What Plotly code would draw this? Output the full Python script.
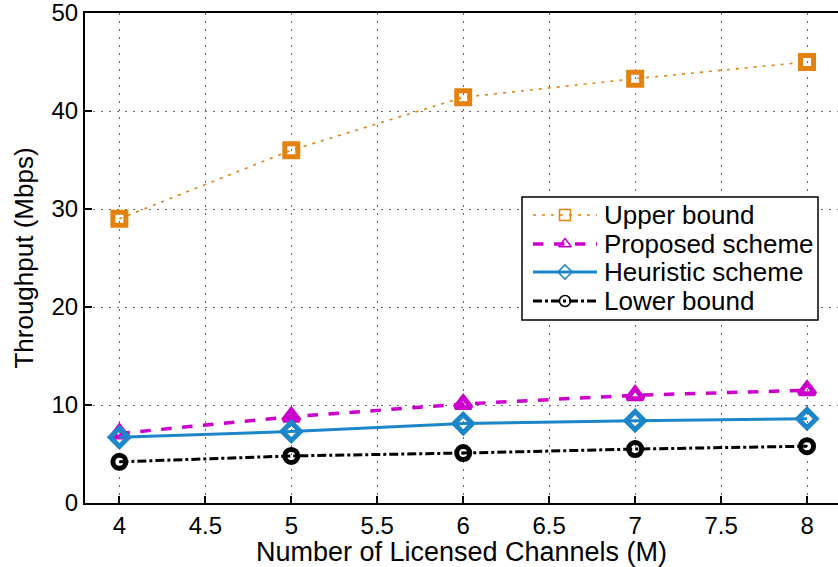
import plotly.graph_objects as go

# Throughput vs. number of licensed channels
channels = [4, 5, 6, 7, 8]
upper_bound = [29.0, 36.0, 41.4, 43.3, 45.0]
proposed = [7.1, 8.8, 10.1, 11.0, 11.5]
heuristic = [6.7, 7.3, 8.1, 8.4, 8.6]
lower_bound = [4.2, 4.8, 5.1, 5.5, 5.8]

series_names = ["Upper bound", "Proposed scheme", "Heuristic scheme", "Lower bound"]

x_ticks = [4, 4.5, 5, 5.5, 6, 6.5, 7, 7.5, 8]
y_ticks = [0, 10, 20, 30, 40, 50]

FONT = "Liberation Sans, Arial, sans-serif"

styles = [
    ("#E3820E", "3px,6px", 1.6, "square-open", 13),
    ("#CC00CC", "dash", 3.5, "triangle-up-open", 14),
    ("#1C86C8", "solid", 3, "diamond-open", 14),
    ("#000000", "dashdot", 3, "circle-open", 13),
]
all_values = [upper_bound, proposed, heuristic, lower_bound]

W, H = 838, 567
M_L, M_R, M_T, M_B = 85, 0, 13, 64
X_RANGE = [3.8, 8.18]
Y_RANGE = [0, 50.001]
PLOT_TOP, PLOT_BOTTOM = M_T, H - M_B

fig = go.Figure()
for name, vals, (color, dash, lw, sym, size) in zip(series_names, all_values, styles):
    fig.add_trace(go.Scatter(
        x=channels, y=vals, name=name, mode="lines+markers", showlegend=False,
        line=dict(color=color, dash=dash, width=lw),
        marker=dict(symbol=sym, size=size, color=color,
                    line=dict(color=color, width=5)),
    ))


def px_to_data(px, py):
    """Convert page pixels to main-axis data coordinates."""
    fx = (px - M_L) / (W - M_L - M_R)
    fy = (PLOT_BOTTOM - py) / (PLOT_BOTTOM - PLOT_TOP)
    return (X_RANGE[0] + fx * (X_RANGE[1] - X_RANGE[0]),
            Y_RANGE[0] + fy * (Y_RANGE[1] - Y_RANGE[0]))


# Hand-built legend on a pixel-space overlay axis pair
box_x0, box_x1, box_y0, box_y1 = 522, 818, 197, 320
row_y = [215, 244, 272, 301]
sample_x0, sample_x1, marker_x, text_x = 533, 597, 565, 602

bx0, by0 = px_to_data(box_x0, box_y1)
bx1, by1 = px_to_data(box_x1, box_y0)
fig.add_shape(type="rect", xref="x", yref="y",
              x0=bx0, x1=bx1, y0=by0, y1=by1,
              fillcolor="white", line=dict(color="black", width=1.5),
              layer="between")

for name, y, (color, dash, lw, sym, size) in zip(series_names, row_y, styles):
    fig.add_trace(go.Scatter(
        x=[sample_x0, sample_x1], y=[y, y], xaxis="x2", yaxis="y2",
        mode="lines", showlegend=False, hoverinfo="skip",
        line=dict(color=color, dash=dash, width=lw),
    ))
    fig.add_trace(go.Scatter(
        x=[marker_x], y=[y], xaxis="x2", yaxis="y2",
        mode="markers", showlegend=False, hoverinfo="skip",
        marker=dict(symbol=sym, size=11, color=color,
                    line=dict(color=color, width=1.5)),
    ))
    fig.add_annotation(x=text_x, y=y, xref="x2", yref="y2", text=name,
                       showarrow=False, xanchor="left", yanchor="middle",
                       font=dict(family=FONT, size=26, color="black"))

axis_common = dict(
    showline=True, linecolor="black", linewidth=2,
    ticks="inside", ticklen=7, tickwidth=1.5, tickcolor="black",
    showgrid=True, gridcolor="#6a6a6a", griddash="2px,6px", gridwidth=1.2,
    zeroline=False, ticklabeloverflow="allow",
    tickfont=dict(family=FONT, size=24, color="black"),
)

fig.update_layout(
    width=W, height=H,
    margin=dict(l=M_L, r=M_R, t=M_T, b=M_B),
    paper_bgcolor="white", plot_bgcolor="white",
    font=dict(family=FONT, color="black"),
    showlegend=False,
    xaxis=dict(
        range=X_RANGE, tickvals=x_ticks,
        ticktext=[f"{v:g}" for v in x_ticks],
        mirror=True,
        title=dict(text="Number of Licensed Channels (M)",
                   font=dict(family=FONT, size=27), standoff=0),
        **axis_common,
    ),
    yaxis=dict(
        range=Y_RANGE, tickvals=y_ticks,
        title=dict(text="Throughput (Mbps)",
                   font=dict(family=FONT, size=26), standoff=10),
        **axis_common,
    ),
    xaxis2=dict(overlaying="x", anchor="y2", range=[M_L, W - M_R],
                visible=False, fixedrange=True),
    yaxis2=dict(overlaying="y", anchor="x2", range=[PLOT_BOTTOM, PLOT_TOP],
                visible=False, fixedrange=True),
)

fig.write_html("out.html")
